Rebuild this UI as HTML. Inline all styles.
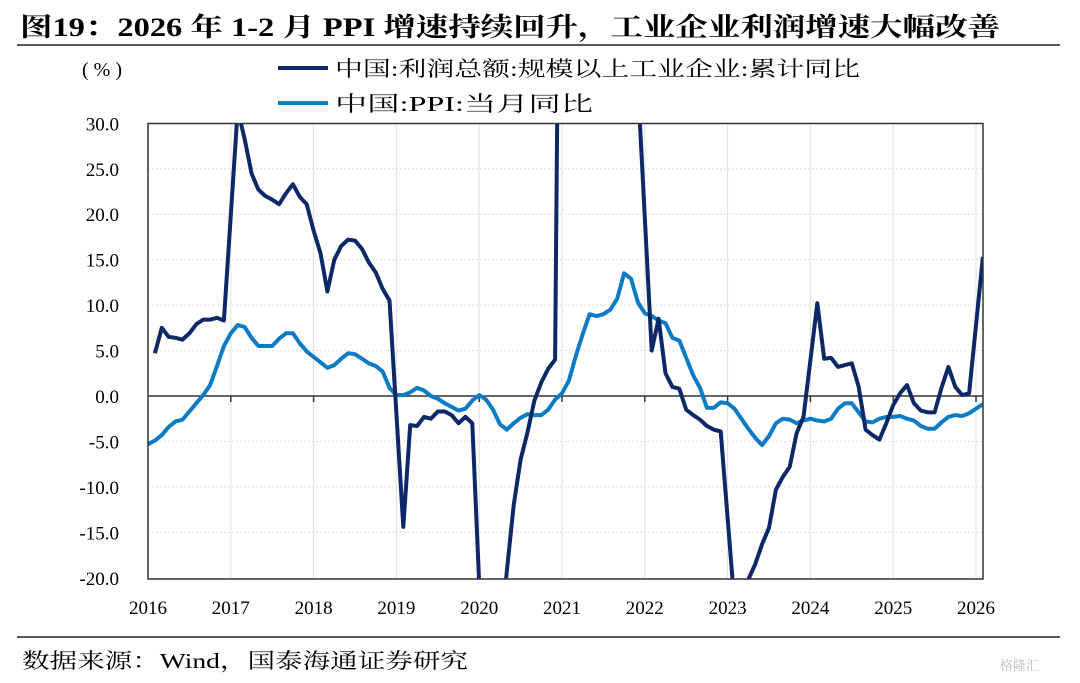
<!DOCTYPE html>
<html><head><meta charset="utf-8">
<style>
html,body{margin:0;padding:0;background:#fff;width:1080px;height:683px;overflow:hidden;}
svg{display:block;}
text{font-family:"Liberation Serif","Noto Serif CJK SC",serif;}
</style></head>
<body>
<svg id="chart" width="1080" height="683" viewBox="0 0 1080 683">
<text x="20" y="36" font-size="26" font-weight="bold" textLength="980" lengthAdjust="spacingAndGlyphs">图19：2026 年 1-2 月 PPI 增速持续回升，工业企业利润增速大幅改善</text>
<line x1="17" y1="45" x2="1060" y2="45" stroke="#222" stroke-width="1.5"/>
<text x="82" y="76" font-size="20">( % )</text>
<g>
<g>
<line x1="278" y1="68" x2="328" y2="68" stroke="#0c2866" stroke-width="4"/>
<text x="335" y="76" font-size="21" textLength="525" lengthAdjust="spacingAndGlyphs">中国:利润总额:规模以上工业企业:累计同比</text></g>
<g>
<line x1="278" y1="103" x2="328" y2="103" stroke="#0a7bc4" stroke-width="4"/>
<text x="335" y="111" font-size="21" textLength="258" lengthAdjust="spacingAndGlyphs">中国:PPI:当月同比</text></g>
</g>
<g id="grid"></g>
<g id="axes"></g>
<g id="series" clip-path="url(#clip)"></g>
<defs><clipPath id="clip"><rect x="148" y="123.5" width="835" height="455.5"/></clipPath></defs>
<rect x="148" y="123.5" width="835" height="455.5" fill="none" stroke="#333" stroke-width="1.5"/>
<line x1="17" y1="637" x2="1060" y2="637" stroke="#222" stroke-width="1.5"/>
<text x="22" y="668" font-size="21" textLength="446" lengthAdjust="spacingAndGlyphs">数据来源：Wind，国泰海通证券研究</text>
<text x="1000" y="670" font-size="13" fill="#bbb" font-family="Liberation Sans,Noto Sans CJK SC,sans-serif">格隆汇</text>
</svg>
<script>
const yTicks=[30,25,20,15,10,5,0,-5,-10,-15,-20];
const xYears=[2016,2017,2018,2019,2020,2021,2022,2023,2024,2025,2026];
const profitMonths=[1,2,3,4,5,6,7,8,9,10,11,13,14,15,16,17,18,19,20,21,22,23,24,25,26,27,28,29,30,31,32,33,34,35,37,38,39,40,41,42,43,44,45,46,47,49,50,51,52,53,54,55,56,57,58,59,61,62,63,64,65,66,67,68,69,70,71,73,74,75,76,77,78,79,80,81,82,83,85,86,87,88,89,90,91,92,93,94,95,97,98,99,100,101,102,103,104,105,106,107,108,109,110,111,112,113,114,115,116,117,118,119,121];
const profitValues=[4.7,7.5,6.5,6.4,6.2,6.9,7.9,8.4,8.4,8.6,8.3,31.5,28.3,24.5,22.7,22.0,21.6,21.1,22.3,23.3,21.9,21.1,18.2,15.7,11.5,15.0,16.5,17.2,17.1,16.2,14.7,13.6,11.8,10.5,-14.4,-3.2,-3.3,-2.3,-2.5,-1.7,-1.7,-2.1,-3.0,-2.3,-3.0,-38.3,-36.7,-27.4,-19.3,-12.0,-7.0,-4.0,-0.5,1.5,3.0,4.0,178.9,137.3,106.0,83.4,66.9,57.3,49.5,44.7,42.2,38.0,34.3,5.0,8.5,2.5,1.0,0.8,-1.5,-2.1,-2.6,-3.3,-3.7,-3.9,-22.9,-21.4,-20.2,-18.5,-16.3,-14.5,-10.3,-8.9,-7.8,-4.1,-2.3,10.2,4.1,4.2,3.2,3.4,3.6,1.0,-3.7,-4.3,-4.8,-3.0,-1.0,0.3,1.2,-0.8,-1.6,-1.8,-1.8,0.9,3.2,1.0,0.1,0.3,15.3];
const ppiValues=[-5.3,-4.9,-4.3,-3.4,-2.8,-2.6,-1.7,-0.8,0.1,1.2,3.3,5.5,
6.9,7.8,7.6,6.4,5.5,5.5,5.5,6.3,6.9,6.9,5.8,4.9,
4.3,3.7,3.1,3.4,4.1,4.7,4.6,4.1,3.6,3.3,2.7,0.9,
0.1,0.1,0.4,0.9,0.6,0.0,-0.3,-0.8,-1.2,-1.6,-1.4,-0.5,
0.1,-0.4,-1.5,-3.1,-3.7,-3.0,-2.4,-2.0,-2.1,-2.1,-1.5,-0.4,
0.3,1.7,4.4,6.8,9.0,8.8,9.0,9.5,10.7,13.5,12.9,10.3,
9.1,8.8,8.3,8.0,6.4,6.1,4.2,2.3,0.9,-1.3,-1.3,-0.7,
-0.8,-1.4,-2.5,-3.6,-4.6,-5.4,-4.4,-3.0,-2.5,-2.6,-3.0,-2.7,
-2.5,-2.7,-2.8,-2.5,-1.4,-0.8,-0.8,-1.8,-2.8,-2.9,-2.5,-2.3,
-2.3,-2.2,-2.5,-2.7,-3.3,-3.6,-3.6,-2.9,-2.3,-2.1,-2.2,-1.9,
-1.4,-0.9];
const NS='http://www.w3.org/2000/svg';
const X0=148,YW=82.8,Y0=396,YK=9.09;
const xs=m=>X0+m*YW/12, ys=v=>Y0-v*YK;
function mk(tag,attrs,parent){const e=document.createElementNS(NS,tag);for(const k in attrs)e.setAttribute(k,attrs[k]);parent.appendChild(e);return e;}
const grid=document.getElementById('grid'),axes=document.getElementById('axes'),ser=document.getElementById('series');
yTicks.forEach(v=>{
 if(v!==0&&v!==30&&v!==-20){const g=mk('line',{x1:148,x2:983,y1:ys(v),y2:ys(v),stroke:'#ddd','stroke-width':1,'stroke-dasharray':'2,2'},grid);
 
 }
 const t=mk('text',{x:119,y:ys(v)+7,'font-size':19,'text-anchor':'end'},axes);t.textContent=v.toFixed(1);
 
 
});
xYears.forEach((yr,i)=>{
 const x=X0+i*YW;
 if(i>0){const g=mk('line',{x1:x,x2:x,y1:123.5,y2:579,stroke:'#e2e2e2','stroke-width':1},grid);
 
 
 const tk=mk('line',{x1:x,x2:x,y1:Y0,y2:Y0+6,stroke:'#333','stroke-width':1.5},axes);
 
 }
 const t=mk('text',{x:x,y:614,'font-size':19,'text-anchor':'middle'},axes);t.textContent=yr;
 
 
});
const zl=mk('line',{x1:148,x2:983,y1:Y0,y2:Y0,stroke:'#333','stroke-width':1.5},axes);


const pp=mk('polyline',{points:ppiValues.map((v,i)=>xs(i)+','+ys(v)).join(' '),fill:'none',stroke:'#0a7bc4','stroke-width':4,'stroke-linejoin':'round'},ser);


const pr=mk('polyline',{points:profitMonths.map((m,i)=>xs(m)+','+ys(profitValues[i])).join(' '),fill:'none',stroke:'#0c2866','stroke-width':4,'stroke-linejoin':'round'},ser);


</script>
</body></html>
